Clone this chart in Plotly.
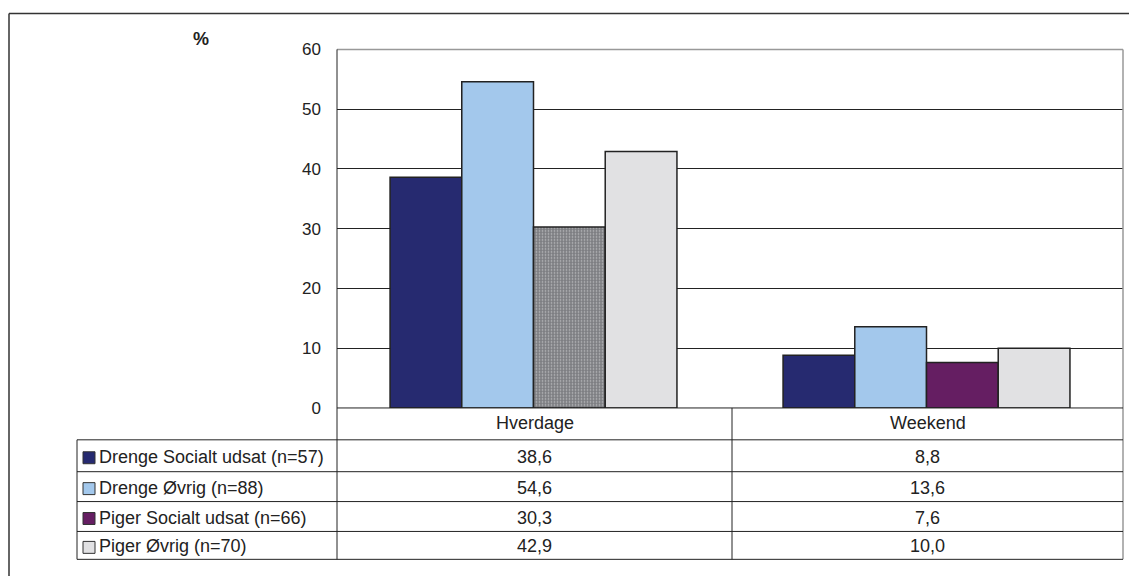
import plotly.graph_objects as go

categories = ["Hverdage", "Weekend"]
series_names = ["Drenge Socialt udsat (n=57)", "Drenge Øvrig (n=88)",
                "Piger Socialt udsat (n=66)", "Piger Øvrig (n=70)"]
drenge_socialt = [38.6, 8.8]
drenge_ovrig = [54.6, 13.6]
piger_socialt = [30.3, 7.6]
piger_ovrig = [42.9, 10.0]
y_ticks = [0, 10, 20, 30, 40, 50, 60]

series_values = [drenge_socialt, drenge_ovrig, piger_socialt, piger_ovrig]
bar_colors = [["#262a70", "#262a70"], ["#a3c8ec", "#a3c8ec"],
              ["#7d7e82", "#651e62"], ["#e1e1e3", "#e1e1e3"]]
swatch_colors = ["#262a70", "#a3c8ec", "#651e62", "#e1e1e3"]
patterns = [["", ""], ["", ""], [".", ""], ["", ""]]

W, H = 1129, 576
# measured page mapping compensation (vertical)
SCALE_Y, OFF_Y = 0.971, 7.4
def px(x):
    return x / W
def py(y):
    return 1 - ((y - OFF_Y) / SCALE_Y) / H

PL, PR, PT, PB = 337, 1123, 48, 408
TL = 77
DIV = 732
ROW_LINES = [408, 440, 472, 502, 532, 560]

fig = go.Figure()
for name, vals, cols, pat in zip(series_names, series_values, bar_colors, patterns):
    fig.add_trace(go.Bar(
        x=categories, y=vals, name=name,
        marker=dict(color=cols, line=dict(color="#222222", width=1.5),
                    pattern=dict(shape=pat, fgcolor="#98989c", size=3, solidity=0.25)),
        showlegend=False, hoverinfo="x+y+name",
    ))

FAM = "Liberation Sans, Arial, sans-serif"
tick_font = dict(family=FAM, size=17, color="#222222")
tab_font = dict(family=FAM, size=18, color="#222222")

def hline(x0, x1, y, color, width):
    return dict(type="line", xref="paper", yref="paper", x0=px(x0), x1=px(x1), y0=py(y), y1=py(y),
                line=dict(color=color, width=width))
def vline(x, y0, y1, color, width):
    return dict(type="line", xref="paper", yref="paper", x0=px(x), x1=px(x), y0=py(y0), y1=py(y1),
                line=dict(color=color, width=width))

shapes = []
# outer frame
shapes.append(hline(9, 1140, 12, "#333333", 1.5))
shapes.append(vline(9, 12, 600, "#333333", 1.5))
# plot border top / right
shapes.append(hline(PL, PR, PT, "#999999", 1.5))
shapes.append(vline(PR, PT, ROW_LINES[-1], "#999999", 1.5))
# table horizontal lines
for i, yl in enumerate(ROW_LINES):
    shapes.append(hline(PL if i == 0 else TL, PR, yl, "#222222", 1))
# table verticals
shapes.append(vline(TL, ROW_LINES[1], ROW_LINES[-1], "#222222", 1))
shapes.append(vline(PL, PT, ROW_LINES[-1], "#222222", 1))
shapes.append(vline(DIV, PB, ROW_LINES[-1], "#222222", 1))

annotations = []
annotations.append(dict(text="<b>%</b>", xref="paper", yref="paper", x=px(201), y=py(38),
                        xanchor="center", yanchor="middle",
                        showarrow=False, font=dict(family=FAM, size=18, color="#222222")))
col_centers = [(PL + DIV) / 2, (DIV + PR) / 2]
for c, xc in zip(categories, col_centers):
    annotations.append(dict(text=c, xref="paper", yref="paper", x=px(xc), y=py(423),
                            xanchor="center", yanchor="middle", showarrow=False, font=tab_font))
for r, (name, vals, sw) in enumerate(zip(series_names, series_values, swatch_colors)):
    yc = (ROW_LINES[r + 1] + ROW_LINES[r + 2]) / 2 + 1
    shapes.append(dict(type="rect", xref="paper", yref="paper", x0=px(83), x1=px(95),
                       y0=py(yc + 7), y1=py(yc - 5), fillcolor=sw, line=dict(color="#333333", width=1)))
    annotations.append(dict(text=name, xref="paper", yref="paper", x=px(97), y=py(yc),
                            xanchor="left", yanchor="middle", showarrow=False, font=tab_font))
    for v, xc in zip(vals, col_centers):
        annotations.append(dict(text=f"{v:.1f}".replace(".", ","), xref="paper", yref="paper",
                                x=px(xc), y=py(yc), xanchor="center", yanchor="middle",
                                showarrow=False, font=tab_font))

fig.update_layout(
    width=W, height=H, margin=dict(l=0, r=0, t=0, b=0),
    paper_bgcolor="white", plot_bgcolor="white",
    barmode="group", bargap=0.27, bargroupgap=0,
    xaxis=dict(domain=[px(PL), px(PR)], showticklabels=False, showgrid=False, zeroline=False,
               showline=False, fixedrange=True),
    yaxis=dict(domain=[py(PB), py(PT)], range=[0, 60], tickvals=y_ticks, ticktext=[str(t) for t in y_ticks],
               showgrid=True, gridcolor="#222222", gridwidth=1, zeroline=False, showline=False,
               ticks="", ticklabelstandoff=15, tickfont=tick_font, fixedrange=True),
    shapes=shapes, annotations=annotations, font=tick_font,
)
fig.write_html("out.html")
